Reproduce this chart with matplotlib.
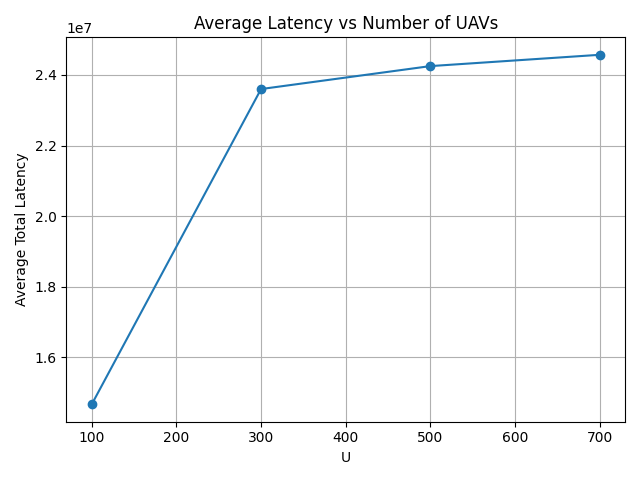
import matplotlib
matplotlib.use("Agg")
import matplotlib.pyplot as plt

num_uavs = [100, 300, 500, 700]
avg_latency = [1.467e7, 2.360e7, 2.425e7, 2.457e7]

plt.figure(figsize=(6.4, 4.8), dpi=100)
plt.plot(num_uavs, avg_latency, marker='o')
plt.title('Average Latency vs Number of UAVs')
plt.xlabel('U')
plt.ylabel('Average Total Latency')
plt.grid(True)
plt.tight_layout()
plt.savefig('out.png')
